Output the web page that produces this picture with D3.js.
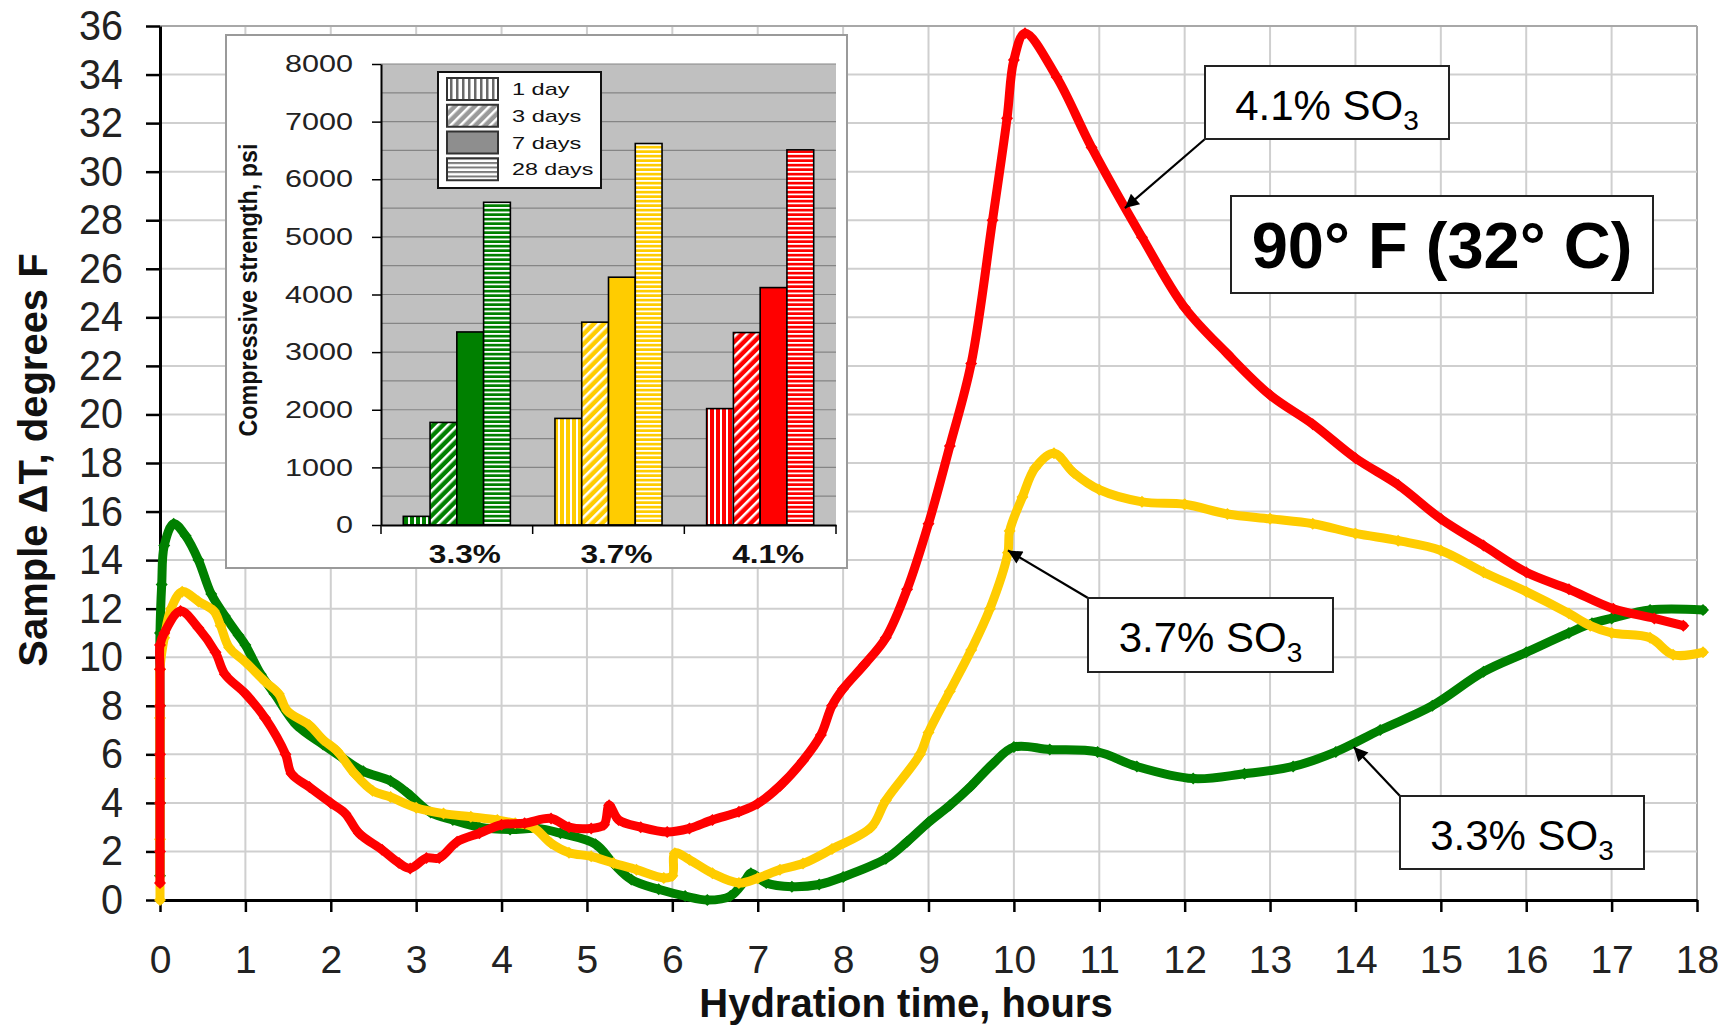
<!DOCTYPE html>
<html><head><meta charset="utf-8">
<script src="https://cdn.jsdelivr.net/npm/d3@7"></script>
<style>
body{margin:0;background:#fff}
svg{display:block}
text{font-family:"Liberation Sans",Arial,Helvetica,sans-serif}
</style>
</head><body>
<svg id="c" width="1730" height="1030"></svg>
<script>
// ---------- DATA ----------
const hourTicks = d3.range(0, 19);
const tempTicks = d3.range(0, 37, 2);
const strengthTicks = d3.range(0, 8001, 1000);
const strengthGrid = d3.range(0, 8001, 500);
const so3Levels = ["3.3%", "3.7%", "4.1%"];
const cureAges = ["1 day", "3 days", "7 days", "28 days"];
const strength33 = [150, 1780, 3350, 5600];
const strength37 = [1850, 3520, 4300, 6620];
const strength41 = [2020, 3340, 4120, 6510];

// [hours, sample delta T (F)]
const dT33 = [[0,1.0],[0,4.0],[0,8],[0,11],[0.02,13],[0.05,14.6],[0.16,15.5],[0.3,15.0],[0.45,14.0],[0.6,12.6],[0.76,11.7],[0.92,10.9],[1.0,10.5],[1.18,9.3],[1.34,8.5],[1.6,7.2],[1.91,6.4],[2.12,5.9],[2.38,5.3],[2.7,4.9],[2.9,4.4],[3.17,3.6],[3.43,3.3],[3.74,3.0],[4.1,2.9],[4.42,2.95],[4.69,2.75],[5.1,2.3],[5.31,1.5],[5.52,0.84],[5.84,0.44],[6.15,0.16],[6.41,0.0],[6.68,0.16],[6.85,0.8],[6.92,1.1],[7.1,0.7],[7.4,0.55],[7.72,0.64],[8.0,0.95],[8.5,1.7],[8.75,2.4],[9.0,3.2],[9.25,3.9],[9.5,4.7],[9.75,5.6],[10.0,6.3],[10.42,6.2],[10.98,6.1],[11.44,5.5],[12.1,5.0],[12.7,5.2],[13.27,5.5],[13.77,6.1],[14.29,7.0],[14.9,8.0],[15.5,9.4],[16.0,10.2],[16.5,11.0],[16.77,11.4],[17.0,11.6],[17.45,11.95],[18.07,11.95]];
const dT37 = [[0,0],[0,2.5],[0,5],[0,7.5],[0,9.5],[0.05,10.8],[0.13,12.0],[0.26,12.7],[0.45,12.3],[0.63,11.9],[0.71,11.3],[0.81,10.4],[1.0,9.8],[1.23,9.0],[1.39,8.5],[1.49,7.8],[1.75,7.2],[1.91,6.6],[2.07,6.15],[2.28,5.2],[2.49,4.5],[2.7,4.24],[3.0,3.8],[3.32,3.56],[3.64,3.43],[3.95,3.3],[4.16,3.16],[4.37,3.0],[4.58,2.34],[4.79,1.95],[5.05,1.8],[5.31,1.52],[5.58,1.25],[5.9,0.91],[6.0,1.0],[6.03,1.93],[6.2,1.66],[6.47,1.1],[6.78,0.7],[7.0,0.9],[7.26,1.25],[7.53,1.5],[7.87,2.1],[8.33,3.0],[8.5,4.1],[8.9,6.0],[9.0,6.9],[9.25,8.6],[9.5,10.3],[9.72,12.0],[9.93,14.3],[9.95,15.2],[10.1,16.6],[10.25,17.8],[10.47,18.4],[10.7,17.6],[11.0,16.9],[11.5,16.4],[12.0,16.3],[12.5,15.9],[13.0,15.7],[13.5,15.5],[14.0,15.1],[14.5,14.8],[15.0,14.4],[15.5,13.5],[16.0,12.7],[16.5,11.8],[16.75,11.3],[17.0,11.0],[17.45,10.8],[17.72,10.1],[18.07,10.2]];
const dT41 = [[0,0.7],[0,2],[0,4],[0,6],[0,8],[0,9.5],[0,10.5],[0.05,11.0],[0.24,11.9],[0.45,11.2],[0.65,10.2],[0.76,9.3],[1.0,8.5],[1.23,7.5],[1.47,6.0],[1.54,5.2],[1.75,4.65],[2.0,4.0],[2.17,3.56],[2.33,2.75],[2.6,2.07],[2.8,1.52],[2.93,1.3],[3.12,1.73],[3.27,1.73],[3.48,2.4],[3.74,2.75],[4.0,3.1],[4.27,3.16],[4.58,3.36],[4.79,3.0],[5.05,2.95],[5.2,3.1],[5.26,3.9],[5.37,3.3],[5.63,3.0],[5.94,2.8],[6.2,2.95],[6.47,3.3],[6.78,3.63],[7.0,3.97],[7.26,4.7],[7.53,5.74],[7.74,6.8],[7.87,8.0],[8.0,8.7],[8.25,9.7],[8.5,10.8],[8.75,12.8],[9.0,15.5],[9.25,18.7],[9.5,22.1],[9.75,28.0],[9.92,32.2],[10.0,34.6],[10.13,35.7],[10.5,33.9],[10.91,31.0],[11.5,27.3],[12.0,24.4],[12.5,22.5],[13.0,20.8],[13.5,19.6],[14.0,18.2],[14.5,17.1],[15.0,15.7],[15.5,14.6],[16.0,13.5],[16.5,12.8],[17.02,12.0],[17.5,11.6],[17.84,11.3]];

const seriesColors = {"3.3%": "#008000", "3.7%": "#FFCC00", "4.1%": "#FF0000"};
// callouts: label, target point on curve [hours, dT]
const callouts = [
  {main: "4.1% SO", sub: "3", target: [11.3, 28.5], box: [1205, 66, 244, 73]},
  {main: "3.7% SO", sub: "3", target: [9.93, 14.4], box: [1088, 598, 245, 74]},
  {main: "3.3% SO", sub: "3", target: [13.98, 6.3], box: [1400, 796, 244, 73]}
];

// ---------- SETUP ----------
const svg = d3.select("#c");
const defs = svg.append("defs");

const x = d3.scaleLinear().domain([0, 18]).range([160, 1697]);
const y = d3.scaleLinear().domain([0, 36]).range([900, 26]);

// grid
const grid = svg.append("g");
grid.selectAll(".vg").data(hourTicks.filter(h => h > 0)).join("line")
  .attr("x1", d => x(d)).attr("x2", d => x(d)).attr("y1", y(0)).attr("y2", y(36))
  .attr("stroke", d => d === 18 ? "#a8a8a8" : "#cfcfcf").attr("stroke-width", 2);
grid.selectAll(".hg").data(tempTicks.filter(t => t > 0)).join("line")
  .attr("x1", x(0)).attr("x2", x(18)).attr("y1", d => y(d)).attr("y2", d => y(d))
  .attr("stroke", d => d === 36 ? "#a8a8a8" : "#cfcfcf").attr("stroke-width", 2);

// axes
const yAxis = svg.append("g").attr("transform", `translate(${x(0)},0)`)
  .call(d3.axisLeft(y).tickValues(tempTicks).tickSize(14).tickSizeOuter(0).tickPadding(23));
const xAxis = svg.append("g").attr("transform", `translate(0,${y(0)})`)
  .call(d3.axisBottom(x).tickValues(hourTicks).tickSize(12).tickSizeOuter(0).tickPadding(33));
[yAxis, xAxis].forEach(a => {
  a.select(".domain").attr("stroke", "#000").attr("stroke-width", 3);
  a.selectAll(".tick line").attr("stroke", "#000").attr("stroke-width", 2.5);
  a.selectAll(".tick text").attr("fill", "#222")
    .attr("font-family", '"Liberation Sans",Arial,sans-serif');
});
yAxis.selectAll(".tick text").attr("font-size", 42)
  .attr("textLength", d => String(d).length * 22).attr("lengthAdjust", "spacingAndGlyphs");
xAxis.selectAll(".tick text").attr("font-size", 39);

// axis titles
svg.append("text").attr("transform", "translate(33,460) rotate(-90)")
  .attr("text-anchor", "middle").attr("dy", "0.35em")
  .attr("font-size", 40).attr("font-weight", "bold").attr("fill", "#111")
  .text("Sample \u0394T, degrees F");
svg.append("text").attr("x", 906).attr("y", 1017)
  .attr("text-anchor", "middle").attr("font-size", 40).attr("font-weight", "bold").attr("fill", "#111")
  .text("Hydration time, hours");

// ---------- INSET ----------
function makePattern(id, type, stripe, bg, period, sw) {
  const p = defs.append("pattern").attr("id", id).attr("patternUnits", "userSpaceOnUse")
    .attr("width", period).attr("height", period);
  if (type === "diag") p.attr("patternTransform", "rotate(45)");
  p.append("rect").attr("width", period).attr("height", period).attr("fill", bg);
  if (type === "horiz") p.append("rect").attr("width", period).attr("height", sw).attr("fill", stripe);
  else p.append("rect").attr("width", sw).attr("height", period).attr("fill", stripe);
}
const ageStyle = {"1 day": "vert", "3 days": "diag", "7 days": "solid", "28 days": "horiz"};
const patternSpec = {vert: [6, 2], diag: [7, 2.5], horiz: [4.5, 1.8]};
so3Levels.forEach((lvl, i) => {
  const c = seriesColors[lvl];
  ["vert", "diag", "horiz"].forEach(t => makePattern(`p${i}${t}`, t, "#fff", c, patternSpec[t][0], patternSpec[t][1]));
});
makePattern("lgvert", "vert", "#6a6a6a", "#fff", 6, 2.5);
makePattern("lgdiag", "diag", "#fff", "#9a9a9a", 7, 2.5);
makePattern("lghoriz", "horiz", "#7a7a7a", "#fff", 4.5, 2);

const inset = svg.append("g");
inset.append("rect").attr("x", 226).attr("y", 35).attr("width", 621).attr("height", 533)
  .attr("fill", "#fff").attr("stroke", "#9a9a9a").attr("stroke-width", 2);

const xi = d3.scaleBand().domain(so3Levels).range([381, 836]);
const xs = d3.scaleBand().domain(cureAges).range([xi.bandwidth() * 0.147, xi.bandwidth() * 0.853]);
const yi = d3.scaleLinear().domain([0, 8000]).range([525, 64]);

inset.append("rect").attr("x", xi.range()[0]).attr("y", yi(8000))
  .attr("width", xi.range()[1] - xi.range()[0]).attr("height", yi(0) - yi(8000)).attr("fill", "#c0c0c0");
inset.selectAll(".ig").data(strengthGrid.filter(d => d > 0)).join("line")
  .attr("x1", xi.range()[0]).attr("x2", xi.range()[1]).attr("y1", d => yi(d)).attr("y2", d => yi(d))
  .attr("stroke", "#858585").attr("stroke-width", 1.2);

const strengthBySo3 = {"3.3%": strength33, "3.7%": strength37, "4.1%": strength41};
so3Levels.forEach((lvl, i) => {
  const vals = strengthBySo3[lvl];
  inset.selectAll(null).data(cureAges).join("rect")
    .attr("x", a => xi(lvl) + xs(a)).attr("width", xs.bandwidth())
    .attr("y", (a, j) => yi(vals[j])).attr("height", (a, j) => yi(0) - yi(vals[j]))
    .attr("fill", a => ageStyle[a] === "solid" ? seriesColors[lvl] : `url(#p${i}${ageStyle[a]})`)
    .attr("stroke", "#000").attr("stroke-width", 1.6);
});

const yiAxis = inset.append("g").attr("transform", `translate(${xi.range()[0]},0)`)
  .call(d3.axisLeft(yi).tickValues(strengthTicks).tickFormat(d3.format("d"))
    .tickSize(9).tickSizeOuter(0).tickPadding(19));
yiAxis.select(".domain").attr("stroke", "#000").attr("stroke-width", 2);
yiAxis.selectAll(".tick line").attr("stroke", "#000").attr("stroke-width", 1.5);
yiAxis.selectAll(".tick text").attr("font-size", 24).attr("fill", "#222")
  .attr("font-family", '"Liberation Sans",Arial,sans-serif')
  .attr("textLength", d => String(d).length * 17).attr("lengthAdjust", "spacingAndGlyphs");

const xiAxis = inset.append("g").attr("transform", `translate(0,${yi(0)})`)
  .call(d3.axisBottom(xi).tickSize(0).tickSizeOuter(0).tickPadding(20));
xiAxis.select(".domain").attr("stroke", "#000").attr("stroke-width", 2);
xiAxis.selectAll(".tick text").attr("font-size", 25).attr("font-weight", "bold").attr("fill", "#111")
  .attr("font-family", '"Liberation Sans",Arial,sans-serif').attr("dx", 8)
  .attr("textLength", 72).attr("lengthAdjust", "spacingAndGlyphs");
inset.selectAll(".bt").data(so3Levels.map(l => xi(l)).concat([xi.range()[1]])).join("line")
  .attr("x1", d => d).attr("x2", d => d).attr("y1", yi(0)).attr("y2", yi(0) + 9)
  .attr("stroke", "#000").attr("stroke-width", 1.5);

inset.append("text").attr("transform", "translate(248,290) rotate(-90)")
  .attr("text-anchor", "middle").attr("dy", "0.35em")
  .attr("font-size", 25).attr("font-weight", "bold").attr("fill", "#111")
  .attr("textLength", 293).attr("lengthAdjust", "spacingAndGlyphs")
  .text("Compressive strength, psi");

// legend
const lg = inset.append("g");
lg.append("rect").attr("x", 438).attr("y", 72).attr("width", 163).attr("height", 116)
  .attr("fill", "#fff").attr("stroke", "#111").attr("stroke-width", 2);
const legendFill = {"1 day": "url(#lgvert)", "3 days": "url(#lgdiag)", "7 days": "#8e8e8e", "28 days": "url(#lghoriz)"};
const ly = d3.scaleBand().domain(cureAges).range([76, 183]);
lg.selectAll(".sw").data(cureAges).join("rect")
  .attr("x", 447).attr("y", d => ly(d) + 2).attr("width", 51).attr("height", 22)
  .attr("fill", d => legendFill[d]).attr("stroke", "#333").attr("stroke-width", 2);
lg.selectAll(".lt").data(cureAges).join("text")
  .attr("x", 512).attr("y", d => ly(d) + 19)
  .attr("font-size", 17).attr("fill", "#111")
  .attr("font-family", '"DejaVu Sans Mono",monospace')
  .attr("textLength", d => d.length * 11.9 - 2).attr("lengthAdjust", "spacingAndGlyphs")
  .text(d => d);

// ---------- SERIES ----------
const line = d3.line().x(d => x(d[0])).y(d => y(d[1])).curve(d3.curveCatmullRom.alpha(0.5));
const series = [
  {lvl: "3.3%", data: dT33},
  {lvl: "3.7%", data: dT37},
  {lvl: "4.1%", data: dT41}
];
const sg = svg.append("g");
series.forEach(s => {
  const c = seriesColors[s.lvl];
  sg.append("path").attr("d", line(s.data)).attr("fill", "none").attr("stroke", c)
    .attr("stroke-width", 9).attr("stroke-linejoin", "round").attr("stroke-linecap", "round");
  sg.selectAll(null).data(s.data).join("path")
    .attr("transform", d => `translate(${x(d[0])},${y(d[1])}) rotate(45)`)
    .attr("d", d3.symbol(d3.symbolSquare, 72)).attr("fill", c);
});

// ---------- CALLOUTS ----------
defs.append("marker").attr("id", "arr").attr("viewBox", "0 0 10 10").attr("refX", 10).attr("refY", 5)
  .attr("markerWidth", 18).attr("markerHeight", 14).attr("markerUnits", "userSpaceOnUse")
  .attr("orient", "auto")
  .append("path").attr("d", "M0,0 L10,5 L0,10 z").attr("fill", "#000");

const cg = svg.append("g");
callouts.forEach((c, i) => {
  const [bx, by, bw, bh] = c.box;
  const sx = bx, sy = i === 0 ? by + bh : by;
  cg.append("line").attr("x1", sx).attr("y1", sy).attr("x2", x(c.target[0])).attr("y2", y(c.target[1]))
    .attr("stroke", "#000").attr("stroke-width", 2.2).attr("marker-end", "url(#arr)");
  cg.append("rect").attr("x", bx).attr("y", by).attr("width", bw).attr("height", bh)
    .attr("fill", "#fff").attr("stroke", "#222").attr("stroke-width", 2);
  const t = cg.append("text").attr("x", bx + bw / 2).attr("y", by + 54)
    .attr("text-anchor", "middle").attr("font-size", 42).attr("fill", "#000");
  t.append("tspan").text(c.main);
  t.append("tspan").attr("font-size", 28).attr("dy", 10).text(c.sub);
});

cg.append("rect").attr("x", 1231).attr("y", 196).attr("width", 422).attr("height", 97)
  .attr("fill", "#fff").attr("stroke", "#222").attr("stroke-width", 2);
cg.append("text").attr("x", 1442).attr("y", 268).attr("text-anchor", "middle")
  .attr("font-size", 65).attr("font-weight", "bold").attr("fill", "#000")
  .text("90\u00B0 F (32\u00B0 C)");
</script>
</body></html>
